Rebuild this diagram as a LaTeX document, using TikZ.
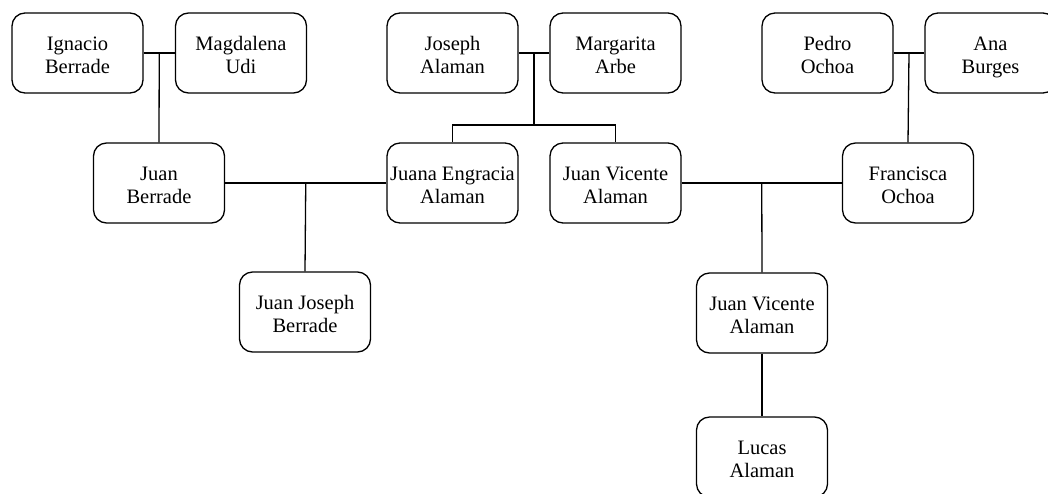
\documentclass[tikz,border=0pt]{standalone}
\usepackage{fontspec}
\setmainfont{Liberation Serif}
\usetikzlibrary{calc}
\begin{document}
\begin{tikzpicture}[x=1pt,y=-1pt,
  person/.style={draw, line width=1.3pt, rounded corners=13pt, minimum width=131pt, minimum height=80pt, inner sep=0pt, align=center, text height=43pt, text depth=3pt, font=\fontsize{20.5}{23}\selectfont},
  link/.style={line width=1.3pt}]
\useasboundingbox (0,0) rectangle (1048,493);
\node[person] (ign) at (77.5,53) {Ignacio\\Berrade};
\node[person] (mag) at (241,53) {Magdalena\\Udi};
\node[person] (jos) at (452.5,53) {Joseph\\Alaman};
\node[person] (mar) at (615.5,53) {Margarita\\Arbe};
\node[person] (ped) at (827.5,53) {Pedro\\Ochoa};
\node[person] (ana) at (990.5,53) {Ana\\Burges};
\node[person] (jb) at (159,183) {Juan\\Berrade};
\node[person] (je) at (452.5,183) {Juana Engracia\\Alaman};
\node[person] (jv) at (615.5,183) {Juan Vicente\\Alaman};
\node[person] (fo) at (908,183) {Francisca\\Ochoa};
\node[person] (jjb) at (305,312) {Juan Joseph\\Berrade};
\node[person] (jv2) at (762,313) {Juan Vicente\\Alaman};
\node[person] (luc) at (762,457) {Lucas\\Alaman};
% couples
\draw[link] (ign.east) -- (mag.west);
\coordinate (m1) at ($(ign.east)!0.5!(mag.west)$);
\draw[link] (m1) -- (jb.north);
\draw[link] (jos.east) -- (mar.west);
\coordinate (m2) at ($(jos.east)!0.5!(mar.west)$);
\coordinate (s2) at ($(m2)+(0,72)$);
\draw[link] (m2) -- (s2);
\draw[link] (je.north) |- (s2) -| (jv.north);
\draw[link] (ped.east) -- (ana.west);
\coordinate (m3) at ($(ped.east)!0.5!(ana.west)$);
\draw[link] (m3) -- (fo.north);
\draw[link] (jb.east) -- (je.west);
\coordinate (m4) at ($(jb.east)!0.5!(je.west)$);
\draw[link] (m4) -- (jjb.north);
\draw[link] (jv.east) -- (fo.west);
\coordinate (m5) at ($(jv.east)!0.5!(fo.west)$);
\draw[link] (m5) -- (jv2.north);
\draw[link] (jv2.south) -- (luc.north);
\end{tikzpicture}
\end{document}
